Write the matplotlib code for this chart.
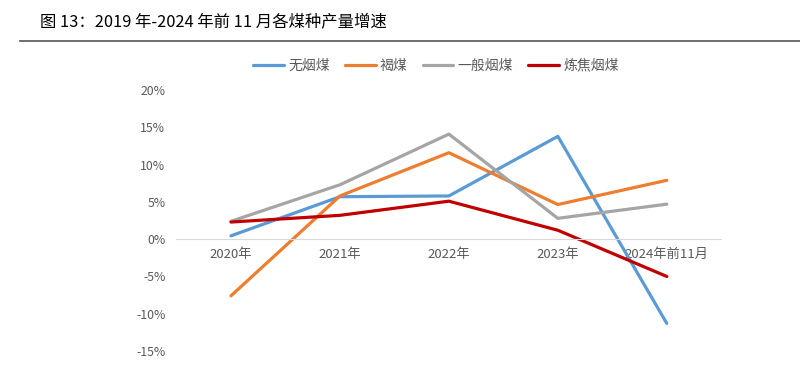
import matplotlib
matplotlib.use("Agg")
import matplotlib.pyplot as plt
from matplotlib.lines import Line2D
from matplotlib.ticker import FuncFormatter

plt.rcParams['font.family'] = ['Noto Sans CJK SC', 'DejaVu Sans']

years = ["2020年", "2021年", "2022年", "2023年", "2024年前11月"]
anthracite = [0.45, 5.7, 5.8, 13.8, -11.3]
lignite = [-7.6, 5.8, 11.6, 4.65, 7.9]
bituminous = [2.4, 7.3, 14.1, 2.8, 4.7]
coking = [2.3, 3.2, 5.1, 1.2, -5.0]
names = ["无烟煤", "褐煤", "一般烟煤", "炼焦烟煤"]
colors = ["#5B9BD5", "#ED7D31", "#A5A5A5", "#C00000"]

fig = plt.figure(figsize=(8, 3.7), dpi=100)
fig.text(0.05, 0.94, "图 13：2019 年-2024 年前 11 月各煤种产量增速",
         fontsize=11.8, color="black", va="center", ha="left")
fig.add_artist(Line2D([0.025, 1.0], [0.889, 0.889], color="#555555", lw=1.2))

ax = fig.add_axes([0.2206, 0.0514, 0.681, 0.705])
x = range(len(years))
for vals, name, col in zip([anthracite, lignite, bituminous, coking], names, colors):
    ax.plot(x, vals, color=col, lw=2.3, label=name, solid_capstyle="round")

ax.set_xlim(-0.5, 4.5)
ax.set_ylim(-15, 20)
ax.set_yticks(range(-15, 21, 5))
ax.yaxis.set_major_formatter(FuncFormatter(lambda v, p: f"{v:.0f}%"))
ax.set_xticks(list(x))
ax.set_xticklabels(years)
for s in ["top", "right", "left"]:
    ax.spines[s].set_visible(False)
ax.spines["bottom"].set_position(("data", 0))
ax.spines["bottom"].set_color("#D9D9D9")
ax.tick_params(axis="y", length=0, labelsize=8.8, colors="#595959", pad=8)
ax.tick_params(axis="x", length=0, labelsize=9.5, colors="#595959", pad=6)

fig.legend(loc="center", bbox_to_anchor=(0.545, 0.823), ncol=4, frameon=False,
           fontsize=10, handlelength=2.2, columnspacing=1.1, handletextpad=0.3,
           labelcolor="#595959")

fig.savefig("out.png", dpi=100)
